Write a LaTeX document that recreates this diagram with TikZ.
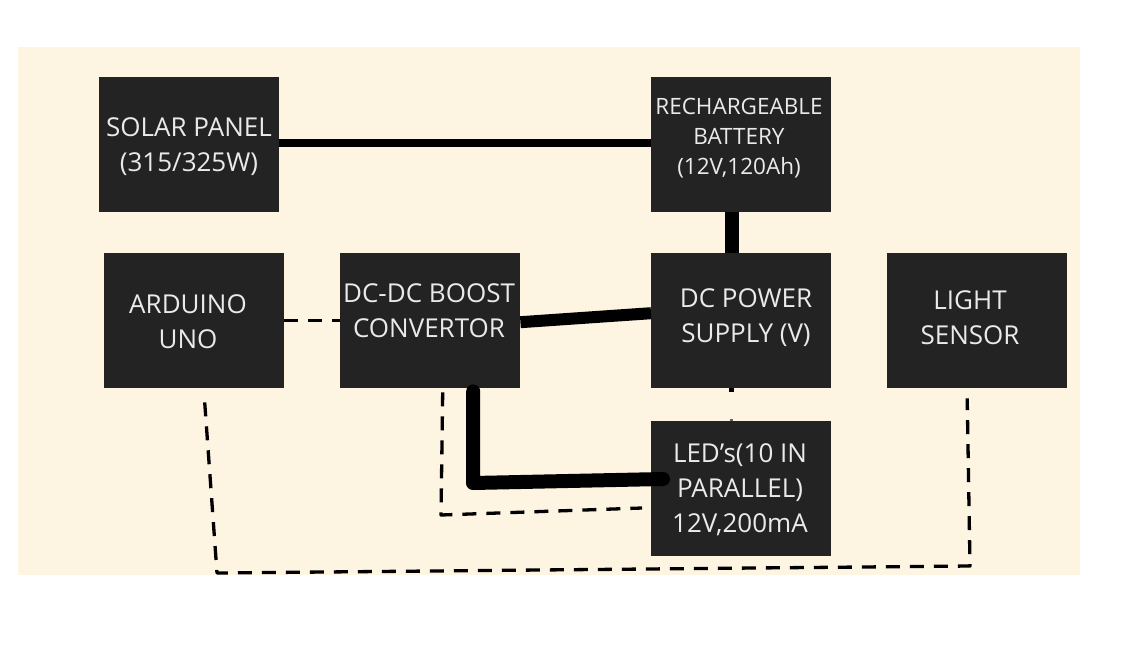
\documentclass[tikz,border=0pt]{standalone}
\usepackage{fontspec}
\setmainfont{Open Sans}
\definecolor{bgc}{HTML}{FDF4E2}
\definecolor{boxc}{HTML}{232323}
\definecolor{txtc}{HTML}{EAEAEA}
\begin{document}
\begin{tikzpicture}[x=1pt,y=-1pt,
  blk/.style={fill=boxc, draw=none, minimum width=180pt, minimum height=135pt, inner sep=0pt, anchor=north west},
  lbl/.style={text=txtc, align=center, inner sep=0pt},
  big/.style={font=\fontsize{26}{35}\selectfont},
  mid/.style={font=\fontsize{22.5}{30}\selectfont},
  wire/.style={draw=black, line cap=round, line join=round},
  dwire/.style={draw=black, line width=3.3pt, dash pattern=on 14pt off 10pt, line join=round}]
\useasboundingbox (0,0) rectangle (1148,658);
\fill[white] (0,0) rectangle (1148,658);
\fill[bgc] (18,47) rectangle (1080,575);

% boxes
\node[blk] (solar) at (99,77) {};
\node[blk] (batt) at (651,77) {};
\node[blk] (ard) at (104,253) {};
\node[blk] (boost) at (340,253) {};
\node[blk] (dcps) at (651,253) {};
\node[blk] (light) at (887,253) {};
\node[blk] (led) at (651,421) {};

% labels
\node[lbl,big] (solar-t) at (189,147) {SOLAR PANEL\\(315/325W)};
\node[lbl,mid] (batt-t) at (739,138) {RECHARGEABLE\\BATTERY\\(12V,120Ah)};
\node[lbl,big] (ard-t) at (188,322) {ARDUINO\\UNO};
\node[lbl,big] (boost-t) at (429,311) {DC-DC BOOST\\CONVERTOR};
\node[lbl,big] (dcps-t) at (746,318) {DC POWER\\SUPPLY (V)};
\node[lbl,big] (light-t) at (970,318) {LIGHT\\SENSOR};
\node[lbl,big] (led-t) at (740,490) {LED’s(10 IN\\PARALLEL)\\12V,200mA};

% solid connectors
\draw[wire, line width=8pt, line cap=butt] ([yshift=1.5pt]solar.east) -- ([yshift=1.5pt]batt.west);
\draw[wire, line width=14pt, line cap=butt] ([xshift=-9.5pt]batt.south) -- ([xshift=-9.5pt]dcps.north);
\draw[wire, line width=12pt, line cap=butt] ([yshift=-1.5pt]boost.east) -- ([yshift=7.5pt]dcps.west);
\coordinate (lc1) at (473,483);
\coordinate (lc2) at (663,479);
\draw[wire, line width=14pt] ([xshift=43pt,yshift=-3pt]boost.south) -- (lc1) -- (lc2);
\draw[wire, line width=5pt, line cap=butt] ([xshift=-10pt]dcps.south) -- ([xshift=-10pt,yshift=-4pt]dcps.south);
\draw[wire, line width=3pt, line cap=butt, draw=black!60] ([xshift=-10pt]led.north) -- ([xshift=-10pt,yshift=2pt]led.north);

% dashed connectors
\draw[dwire] (ard.east) -- (boost.west);
\coordinate (d1) at (441,515);
\coordinate (d2) at (642,508);
\draw[dwire] ([xshift=12.5pt,yshift=-4pt]boost.south) -- (d1) -- (d2);
\coordinate (d4) at (217,573);
\coordinate (d5) at (970,566);
\draw[dwire] ([xshift=10.5pt,yshift=-14pt]ard.south) -- (d4) -- (d5) -- ([xshift=-10pt,yshift=-10pt]light.south);
\end{tikzpicture}
\end{document}
